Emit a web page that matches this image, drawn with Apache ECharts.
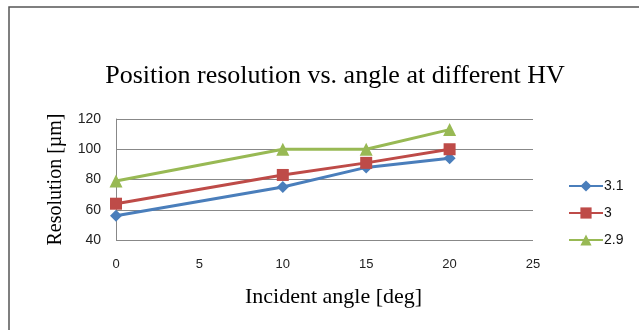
<!DOCTYPE html>
<html><head><meta charset="utf-8">
<script src="https://cdn.jsdelivr.net/npm/echarts@6/dist/echarts.min.js"></script>
<style>html,body{margin:0;padding:0;background:#fff}#c{width:639px;height:330px}</style>
</head><body><div id="c"></div>
<script>
const angles = [0, 10, 15, 20];
const hv31 = [56, 75, 88, 94];
const hv30 = [64, 83, 91, 100];
const hv29 = [79, 100, 100, 113];
const seriesNames = ['3.1', '3', '2.9'];
const xTicks = [0, 5, 10, 15, 20, 25];
const yTicks = [40, 60, 80, 100, 120];

const chart = echarts.init(document.getElementById('c'), null, {renderer: 'canvas'});
const pair = v => angles.map((a, i) => [a, v[i]]);
const lineS = (name, data, color, symbol, size) => ({
  name, type: 'line', data: pair(data), symbol, symbolSize: size,
  lineStyle: {color, width: 3}, itemStyle: {color}, animation: false
});
chart.setOption({
  animation: false,
  graphic: [{type: 'rect', shape: {x: 9, y: 7, width: 700, height: 400},
    style: {fill: 'none', stroke: '#555', lineWidth: 1.5}, z: -1}],
  title: {text: 'Position resolution vs. angle at different HV', left: 330, textAlign: 'center', top: 58,
    textStyle: {fontFamily: 'Liberation Serif', fontSize: 26, fontWeight: 'normal', color: '#000'}},
  grid: {left: 116, right: 106, top: 119, bottom: 90},
  legend: {orient: 'vertical', left: 563, top: 174, itemGap: 13, itemWidth: 34, itemHeight: 14,
    textStyle: {fontFamily: 'Liberation Sans', fontSize: 14, color: '#111', padding: [0,0,0,-4]},
    data: seriesNames.map(n => ({name: n}))},
  xAxis: {type: 'value', min: 0, max: 25, interval: 5,
    name: 'Incident angle [deg]', nameLocation: 'middle', nameGap: 46,
    nameTextStyle: {fontFamily: 'Liberation Serif', fontSize: 22, color: '#000', padding: [0,0,0,18]},
    axisLine: {show: false}, axisTick: {show: false}, splitLine: {show: false},
    axisLabel: {fontFamily: 'Liberation Sans', fontSize: 13, color: '#222', margin: 18,
      formatter: v => xTicks.includes(v) ? String(v) : ''}},
  yAxis: {type: 'value', min: 40, max: 120, interval: 20,
    name: 'Resolution [µm]', nameLocation: 'middle', nameGap: 50, nameRotate: 90,
    nameTextStyle: {fontFamily: 'Liberation Serif', fontSize: 20, color: '#000'},
    axisLine: {show: true, lineStyle: {color: '#888', width: 1}}, axisTick: {show: false},
    splitLine: {lineStyle: {color: '#888', width: 1}},
    axisLabel: {fontFamily: 'Liberation Sans', fontSize: 14, color: '#222', margin: 15,
      formatter: v => yTicks.includes(v) ? String(v) : ''}},
  series: [
    lineS(seriesNames[0], hv31, '#4A7EBB', 'diamond', 12),
    lineS(seriesNames[1], hv30, '#BE4B48', 'rect', 12),
    lineS(seriesNames[2], hv29, '#98B954', 'triangle', 13)
  ]
});
</script></body></html>
